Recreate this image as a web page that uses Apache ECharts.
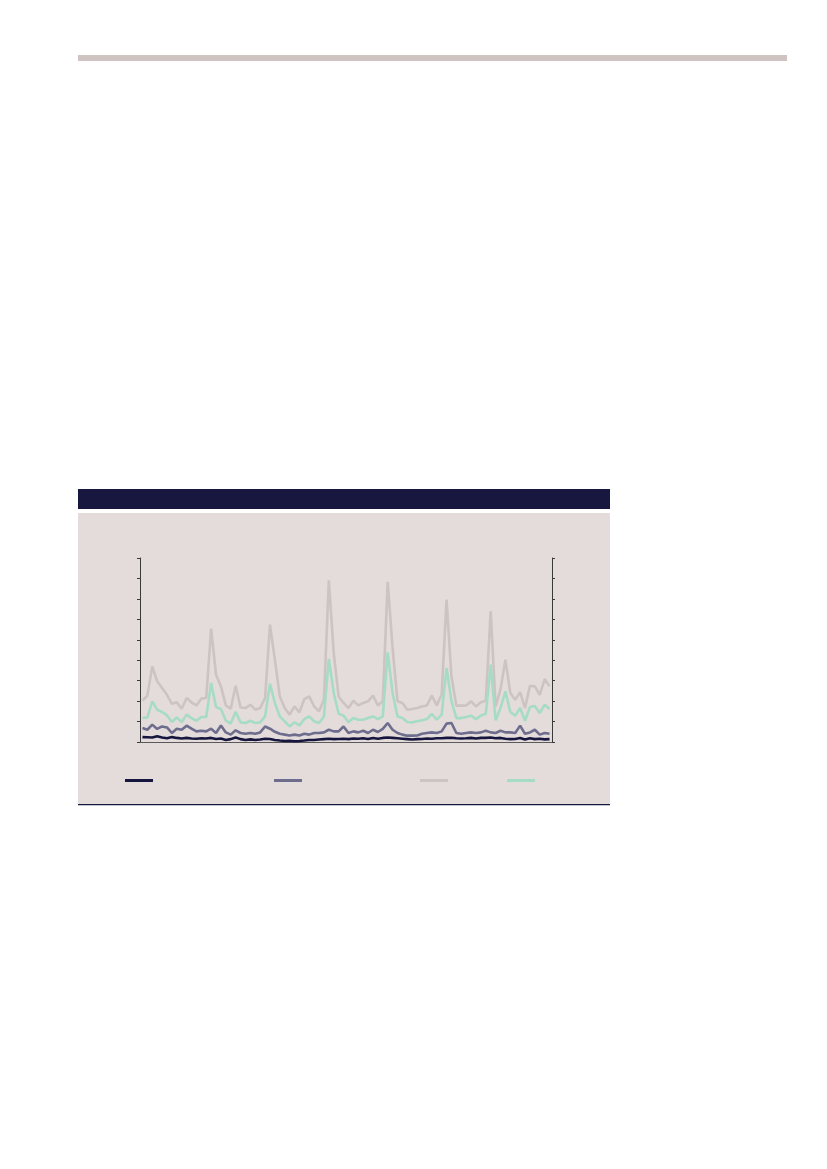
<!DOCTYPE html>
<html>
<head>
<meta charset="utf-8">
<script src="https://cdn.jsdelivr.net/npm/echarts@6/dist/echarts.min.js"></script>
<style>
  html, body { margin: 0; padding: 0; background: #ffffff; }
  #chart { width: 827px; height: 1169px; }
</style>
</head>
<body>
<div id="chart"></div>
<script>
// monthly points, 84 in total (no labels shown in the source)
const months = Array.from({ length: 84 }, (_, i) => String(i + 1));

const seriesNames = ["Serie 1", "Serie 2", "Serie 3", "Serie 4"];
const seriesColors = ["#16163f", "#6e6d8d", "#cdc3c3", "#a6dcc6"];

const navyVals = [
  0.24, 0.23, 0.22, 0.28, 0.22, 0.18, 0.24, 0.20, 0.17, 0.20, 0.17, 0.16, 0.18, 0.17,
  0.20, 0.15, 0.17, 0.10, 0.14, 0.22, 0.14, 0.10, 0.13, 0.10, 0.12, 0.16, 0.15, 0.10,
  0.07, 0.05, 0.06, 0.04, 0.05, 0.07, 0.10, 0.10, 0.12, 0.14, 0.16, 0.14, 0.15, 0.16,
  0.14, 0.17, 0.16, 0.18, 0.15, 0.20, 0.16, 0.20, 0.22, 0.20, 0.18, 0.16, 0.14, 0.12,
  0.14, 0.15, 0.17, 0.16, 0.18, 0.18, 0.20, 0.21, 0.18, 0.17, 0.18, 0.20, 0.17, 0.20,
  0.20, 0.22, 0.18, 0.20, 0.16, 0.14, 0.15, 0.20, 0.12, 0.18, 0.14, 0.16, 0.13, 0.14
];

const slateVals = [
  0.68, 0.60, 0.85, 0.64, 0.76, 0.71, 0.44, 0.65, 0.60, 0.80, 0.65, 0.52, 0.55, 0.52,
  0.65, 0.44, 0.81, 0.47, 0.36, 0.57, 0.44, 0.40, 0.44, 0.40, 0.47, 0.76, 0.65, 0.50,
  0.40, 0.36, 0.32, 0.36, 0.32, 0.40, 0.36, 0.44, 0.44, 0.47, 0.60, 0.52, 0.52, 0.76,
  0.44, 0.52, 0.47, 0.55, 0.44, 0.60, 0.49, 0.64, 0.93, 0.60, 0.44, 0.36, 0.31, 0.31,
  0.32, 0.40, 0.44, 0.47, 0.44, 0.52, 0.90, 0.93, 0.44, 0.40, 0.44, 0.47, 0.44, 0.47,
  0.55, 0.47, 0.44, 0.55, 0.47, 0.47, 0.44, 0.80, 0.40, 0.47, 0.60, 0.36, 0.44, 0.40
];

const greyVals = [
  2.03, 2.27, 3.70, 2.97, 2.64, 2.31, 1.87, 1.94, 1.63, 2.15, 1.94, 1.79, 2.12, 2.15,
  5.54, 3.29, 2.72, 1.79, 1.63, 2.75, 1.69, 1.66, 1.82, 1.58, 1.66, 2.15, 5.74, 4.03,
  2.23, 1.66, 1.34, 1.74, 1.45, 2.10, 2.23, 1.74, 1.50, 2.07, 7.91, 4.35, 2.23, 1.91,
  1.66, 2.02, 1.79, 1.91, 1.99, 2.27, 1.79, 1.99, 7.83, 4.60, 1.99, 1.91, 1.58, 1.61,
  1.66, 1.74, 1.79, 2.27, 1.79, 2.31, 6.96, 3.20, 1.78, 1.78, 1.79, 1.99, 1.74, 1.94,
  2.02, 6.39, 1.74, 2.56, 4.03, 2.40, 2.07, 2.44, 1.66, 2.75, 2.72, 2.31, 3.08, 2.72
];

const tealVals = [
  1.17, 1.20, 1.99, 1.58, 1.47, 1.30, 0.98, 1.20, 0.98, 1.34, 1.17, 1.04, 1.22, 1.22,
  2.89, 1.71, 1.61, 1.04, 0.90, 1.48, 0.96, 0.93, 1.04, 0.93, 0.96, 1.25, 2.85, 1.91,
  1.25, 1.01, 0.76, 0.96, 0.81, 1.12, 1.25, 1.01, 0.93, 1.25, 4.06, 2.40, 1.38, 1.29,
  0.97, 1.17, 1.09, 1.09, 1.17, 1.25, 1.12, 1.25, 4.38, 2.40, 1.25, 1.17, 0.98, 0.96,
  1.01, 1.06, 1.12, 1.38, 1.09, 1.34, 3.62, 2.00, 1.17, 1.17, 1.22, 1.29, 1.12, 1.29,
  1.38, 3.78, 1.06, 1.66, 2.48, 1.47, 1.29, 1.66, 1.04, 1.71, 1.76, 1.42, 1.82, 1.61
];

const legendLeft = [125, 274, 420, 507];

const chart = echarts.init(document.getElementById("chart"), null, { renderer: "canvas" });

function yAxisDef(pos) {
  return {
    type: "value",
    position: pos,
    min: 0,
    max: 9,
    interval: 1,
    axisLine: { show: true, lineStyle: { color: "#3a3a3a", width: 1 } },
    axisTick: { show: true, inside: false, length: 3, lineStyle: { color: "#3a3a3a" } },
    axisLabel: { show: false },
    splitLine: { show: false },
  };
}

const allVals = [navyVals, slateVals, greyVals, tealVals];
// grey behind, then teal, slate, navy on top
const drawOrder = [2, 3, 1, 0];

chart.setOption({
  animation: false,
  backgroundColor: "#ffffff",
  graphic: [
    { type: "rect", shape: { x: 78, y: 55, width: 709, height: 6 }, style: { fill: "#d0c4c3" } },
    { type: "rect", shape: { x: 78, y: 489, width: 532, height: 20 }, style: { fill: "#17173f" } },
    { type: "rect", shape: { x: 78, y: 513, width: 532, height: 292 }, style: { fill: "#e3dcdb" }, z: -10 },
    { type: "rect", shape: { x: 78, y: 804, width: 532, height: 1.2 }, style: { fill: "#17173f" } },
  ],
  grid: { left: 140, right: 275, top: 558, bottom: 427, containLabel: false },
  xAxis: {
    type: "category",
    data: months,
    boundaryGap: true,
    axisLine: { show: true, lineStyle: { color: "#5a5a5a", width: 1 } },
    axisTick: { show: false },
    axisLabel: { show: false },
    splitLine: { show: false },
  },
  yAxis: [yAxisDef("left"), yAxisDef("right")],
  legend: seriesNames.map((name, i) => ({
    data: [name],
    left: legendLeft[i],
    top: 779,
    icon: "rect",
    itemWidth: 28,
    itemHeight: 3,
    itemGap: 0,
    padding: 0,
    formatter: () => "",
    selectedMode: false,
  })),
  series: drawOrder.map((i) => ({
    name: seriesNames[i],
    type: "line",
    data: allVals[i],
    showSymbol: false,
    symbol: "none",
    lineStyle: { color: seriesColors[i], width: 2.6 },
    itemStyle: { color: seriesColors[i] },
    z: 2 + drawOrder.indexOf(i),
  })),
});
</script>
</body>
</html>
